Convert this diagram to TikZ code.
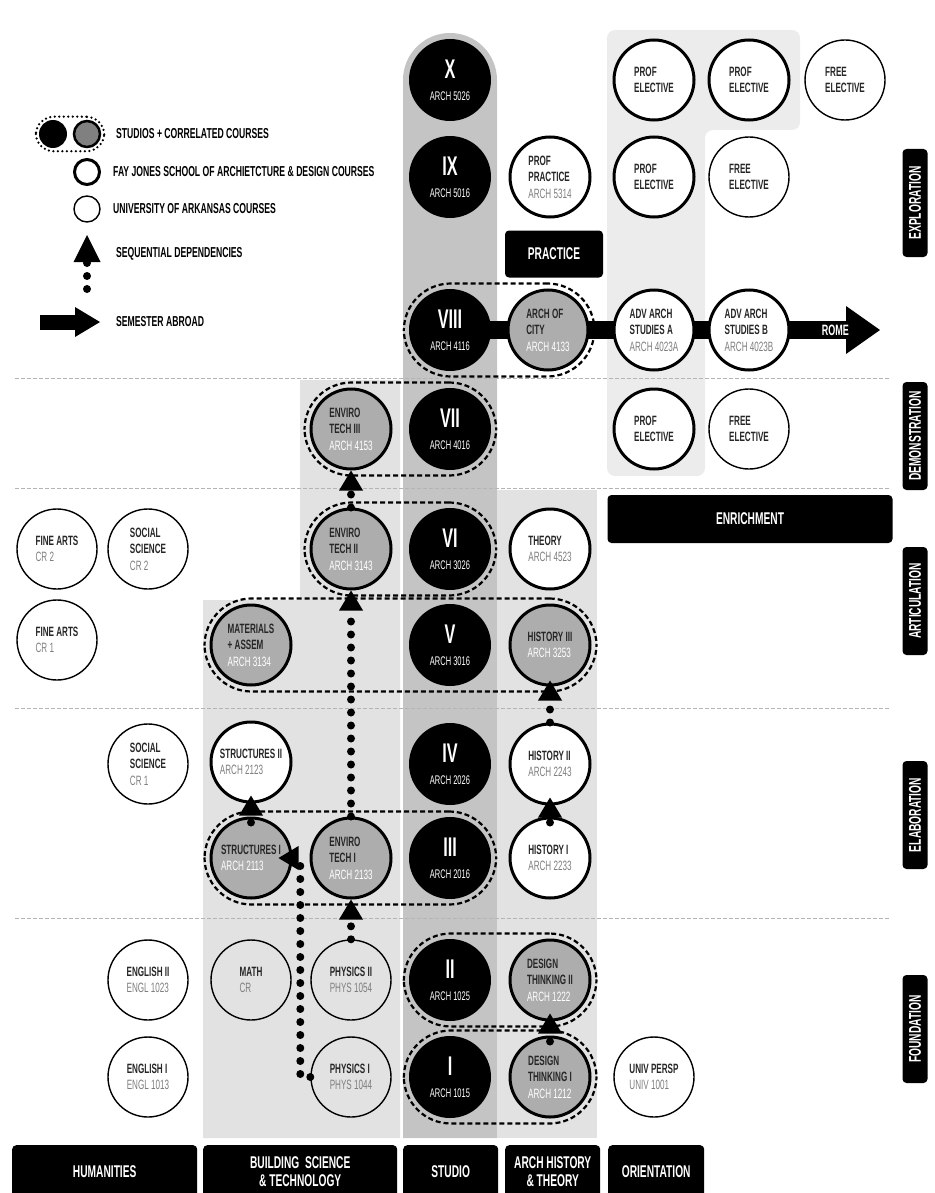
\documentclass[tikz,border=0pt]{standalone}
\usepackage{fontspec}
\setmainfont{Liberation Sans}[FakeStretch=0.6]
\usepackage{xcolor}
\usepackage{tikz}
\usetikzlibrary{positioning,arrows.meta,fit,calc}
\definecolor{band}{HTML}{E2E2E2}
\definecolor{bandlt}{HTML}{ECECEC}
\definecolor{studioband}{HTML}{C4C4C4}
\definecolor{corrfill}{HTML}{ADADAD}
\definecolor{codegray}{HTML}{7E7E7E}
\definecolor{rule}{HTML}{B4B4B4}
\newcommand{\crn}[1]{{\mdseries\color{codegray}#1}}
\newcommand{\crw}[1]{{\mdseries\color{white}#1}}
\newcommand{\sem}[2]{#1\\[-3pt]{\mdseries\fontsize{12.5}{14}\selectfont #2}}
\pgfdeclarelayer{bands}
\pgfdeclarelayer{links}
\pgfsetlayers{bands,links,main}

\begin{document}
\begin{tikzpicture}[x=1pt,y=-1pt,
  course/.style={circle,minimum size=80pt,inner sep=0pt,align=left,text=black!85,
    font=\bfseries\fontsize{13.5}{16.5}\selectfont},
  fay/.style={course,draw=black,line width=3pt,fill=white},
  univ/.style={course,draw=black,line width=1.4pt},
  corr/.style={course,draw=black,line width=3pt,fill=corrfill},
  studio/.style={circle,minimum size=82pt,inner sep=0pt,fill=black,text=white,align=center,
    font=\bfseries\fontsize{27}{25}\selectfont},
  group/.style={draw=black,line width=2.2pt,dash pattern=on 5pt off 3pt,rounded corners=47pt,inner sep=5pt},
  dep/.style={line width=8pt,dash pattern=on 0pt off 13pt,line cap=round,
    -{Triangle[length=20pt,width=24pt,line width=0pt]}},
  abroad/.style={line width=18pt,-{Triangle[length=34pt,width=48pt,line width=0pt]}},
  tag/.style={fill=black,text=white,rounded corners=4pt,align=center,
    font=\bfseries\fontsize{17}{21}\selectfont},
  side/.style={tag,rotate=90,minimum width=108pt,minimum height=25pt,inner sep=0pt,
    font=\bfseries\fontsize{17}{17}\selectfont},
  lgd/.style={anchor=west,inner sep=0pt,font=\bfseries\fontsize{14.4}{16}\selectfont},
  sep/.style={draw=rule,line width=0.8pt,dash pattern=on 4pt off 2pt}]
\useasboundingbox (0,0) rectangle (934,1193);

% legend
\node[circle,fill=black,minimum size=28pt,inner sep=0pt] (lgs) at (53,134) {};
\node[circle,fill=black!50,draw=black,line width=2.5pt,minimum size=26pt,inner sep=0pt] (lgc) at (87,134) {};
\node[fit=(lgs)(lgc),draw,line width=2.5pt,dash pattern=on 0pt off 4.5pt,line cap=round,
  rounded corners=18pt,inner sep=3pt] (lgg) {};
\node[lgd] (lgt1) at (116,134) {STUDIOS + CORRELATED COURSES};
\node[circle,draw,line width=3pt,minimum size=25pt,inner sep=0pt] (lgf) at (87,172) {};
\node[lgd] (lgt2) at (113,172) {FAY JONES SCHOOL OF ARCHIETCTURE \& DESIGN COURSES};
\node[circle,draw,line width=1.4pt,minimum size=26pt,inner sep=0pt] (lgu) at (87,209) {};
\node[lgd] (lgt3) at (113,209) {UNIVERSITY OF ARKANSAS COURSES};
\coordinate (lgtail) at (87,289);
\coordinate (lghead) at (87,235);
\draw[dep,-{Triangle[length=27pt,width=27pt,line width=0pt]}] (lgtail) -- (lghead);
\node[lgd] (lgt4) at (116,254) {SEQUENTIAL DEPENDENCIES};
\coordinate (lgfrom) at (40,322);
\coordinate (lgto) at (100,322);
\draw[line width=15pt,-{Triangle[length=25pt,width=30pt,line width=0pt]}] (lgfrom) -- (lgto);
\node[lgd] (lgt5) at (116,322) {SEMESTER ABROAD};

% studios
\node[studio] (st10) at (450,80) {\sem{X}{ARCH 5026}};
\node[studio] (st9) at (450,177) {\sem{IX}{ARCH 5016}};
\node[studio] (st8) at (450,330) {\sem{VIII}{ARCH 4116}};
\node[studio] (st7) at (450,429) {\sem{VII}{ARCH 4016}};
\node[studio] (st6) at (450,549) {\sem{VI}{ARCH 3026}};
\node[studio] (st5) at (450,645) {\sem{V}{ARCH 3016}};
\node[studio] (st4) at (450,764) {\sem{IV}{ARCH 2026}};
\node[studio] (st3) at (450,858) {\sem{III}{ARCH 2016}};
\node[studio] (st2) at (450,980) {\sem{II}{ARCH 1025}};
\node[studio] (st1) at (450,1077) {\sem{I}{ARCH 1015}};

% exploration
\node[fay] (pe10a) at (654,80) {PROF\\ELECTIVE};
\node[fay] (pe10b) at (749,80) {PROF\\ELECTIVE};
\node[univ] (fe10) at (845,80) {FREE\\ELECTIVE};
\node[fay] (prac) at (550,177) {PROF\\PRACTICE\\\crn{ARCH 5314}};
\node[fay] (pe9) at (654,177) {PROF\\ELECTIVE};
\node[univ] (fe9) at (749,177) {FREE\\ELECTIVE};
\node[tag,minimum width=98pt,minimum height=47pt,inner sep=0pt] (practice) at (554,254) {PRACTICE};
\node[corr] (city) at (548,330) {ARCH OF\\CITY\\\crw{ARCH 4133}};
\node[fay] (advA) at (654,330) {ADV ARCH\\STUDIES A\\\crn{ARCH 4023A}};
\node[fay] (advB) at (749,330) {ADV ARCH\\STUDIES B\\\crn{ARCH 4023B}};
\coordinate (rome) at (880,330);

% demonstration
\node[corr] (et3) at (351,429) {ENVIRO\\TECH III\\\crw{ARCH 4153}};
\node[fay] (pe7) at (654,429) {PROF\\ELECTIVE};
\node[univ] (fe7) at (749,429) {FREE\\ELECTIVE};

% articulation
\node[univ] (fa2) at (57,549) {FINE ARTS\\\crn{CR 2}};
\node[univ] (soc2) at (148,549) {SOCIAL\\SCIENCE\\\crn{CR 2}};
\node[corr] (et2) at (351,549) {ENVIRO\\TECH II\\\crw{ARCH 3143}};
\node[fay] (theory) at (550,549) {THEORY\\\crn{ARCH 4523}};
\node[tag,minimum width=285pt,minimum height=48pt,inner sep=0pt] (enrich) at (750,519) {ENRICHMENT};
\node[univ] (fa1) at (57,640) {FINE ARTS\\\crn{CR 1}};
\node[corr] (mat) at (251,645) {MATERIALS\\+ ASSEM\\\crw{ARCH 3134}};
\node[corr] (hist3) at (550,645) {HISTORY III\\\crw{ARCH 3253}};

% elaboration
\node[univ] (soc1) at (148,764) {SOCIAL\\SCIENCE\\\crn{CR 1}};
\node[fay] (str2) at (251,762) {STRUCTURES II\\\crn{ARCH 2123}};
\node[fay] (hist2) at (550,764) {HISTORY II\\\crn{ARCH 2243}};
\node[corr] (str1) at (251,858) {STRUCTURES I\\\crw{ARCH 2113}};
\node[corr] (et1) at (351,858) {ENVIRO\\TECH I\\\crw{ARCH 2133}};
\node[fay] (hist1) at (550,858) {HISTORY I\\\crn{ARCH 2233}};

% foundation
\node[univ] (eng2) at (148,980) {ENGLISH II\\\crn{ENGL 1023}};
\node[univ] (math) at (251,980) {MATH\\\crn{CR}};
\node[univ] (ph2) at (351,980) {PHYSICS II\\\crn{PHYS 1054}};
\node[corr] (dt2) at (550,980) {DESIGN\\THINKING II\\\crw{ARCH 1222}};
\node[univ] (eng1) at (148,1077) {ENGLISH I\\\crn{ENGL 1013}};
\node[univ] (ph1) at (351,1077) {PHYSICS I\\\crn{PHYS 1044}};
\node[corr] (dt1) at (550,1077) {DESIGN\\THINKING I\\\crw{ARCH 1212}};
\node[univ] (uper) at (654,1077) {UNIV PERSP\\\crn{UNIV 1001}};

% studios + correlated courses
\node[group,fit=(st8)(city)] (g8) {};
\node[group,fit=(et3)(st7)] (g7) {};
\node[group,fit=(et2)(st6)] (g6) {};
\node[group,fit=(mat)(hist3)] (g5) {};
\node[group,fit=(str1)(st3)] (g3) {};
\node[group,fit=(st2)(dt2)] (g2) {};
\node[group,fit=(st1)(dt1)] (g1) {};

% sequential dependencies
\draw[dep] (et2.north) -- (et3.south);
\draw[dep] (et1.north) -- (et2.south);
\draw[dep] (ph2.north) -- (et1.south);
\draw[dep] (ph1.west) -- ++(-10,0) |- ([xshift=-14pt]str1.east);
\draw[dep] ([yshift=-6pt]str1.north) -- ([yshift=8pt]str2.south);
\draw[dep] ([yshift=-6pt]hist1.north) -- ([yshift=8pt]hist2.south);
\draw[dep] (hist2.north) -- ([yshift=6pt]hist3.south);
\draw[dep] ([yshift=-6pt]dt1.north) -- ([yshift=8pt]dt2.south);

% semester abroad
\begin{pgfonlayer}{links}
\draw[abroad] (st8.center) -- (rome);
\end{pgfonlayer}
\node[anchor=east,text=white,inner sep=0pt,font=\bfseries\fontsize{15}{15}\selectfont] (rometxt) at (849,330) {ROME};

% phases
\node[side] (expl) at (915,203) {EXPLORATION};
\node[side] (demo) at (915,436) {DEMONSTRATION};
\node[side] (artic) at (915,601) {ARTICULATION};
\node[side] (elab) at (915,815) {ELABORATION};
\node[side] (found) at (915,1029) {FOUNDATION};

% tracks
\node[tag,minimum width=185pt,minimum height=52pt,anchor=north west,inner sep=0pt] (hum) at (12,1145) {HUMANITIES};
\node[tag,minimum width=194pt,minimum height=52pt,anchor=north west,inner sep=0pt] (bst) at (203,1145) {BUILDING\ \ SCIENCE\\[-3pt]\& TECHNOLOGY};
\node[tag,minimum width=95pt,minimum height=52pt,anchor=north west,inner sep=0pt] (stu) at (403,1145) {STUDIO};
\node[tag,minimum width=95pt,minimum height=52pt,anchor=north west,inner sep=0pt] (aht) at (505,1145) {ARCH HISTORY\\[-3pt]\& THEORY};
\node[tag,minimum width=96pt,minimum height=52pt,anchor=north west,inner sep=0pt] (ori) at (608,1145) {ORIENTATION};

% background bands and rows
\begin{pgfonlayer}{bands}
\fill[studioband] (403,1138) -- (403,80) arc[start angle=180,end angle=0,radius=47pt] -- (497,1138) -- cycle;
\fill[band] (300,380) -- (400,380) -- (400,1138) -- (203,1138) -- (203,600) -- (300,600) -- cycle;
\fill[band] (497,490) rectangle (597,1138);
\fill[bandlt,rounded corners=8pt] (607,476) -- (607,30) -- (800,30) -- (800,130) -- (705,130) -- (705,476) -- cycle;
\foreach \y in {378,488,708,918}
  \draw[sep] (15,\y) -- (890,\y);
\end{pgfonlayer}
\end{tikzpicture}
\end{document}
